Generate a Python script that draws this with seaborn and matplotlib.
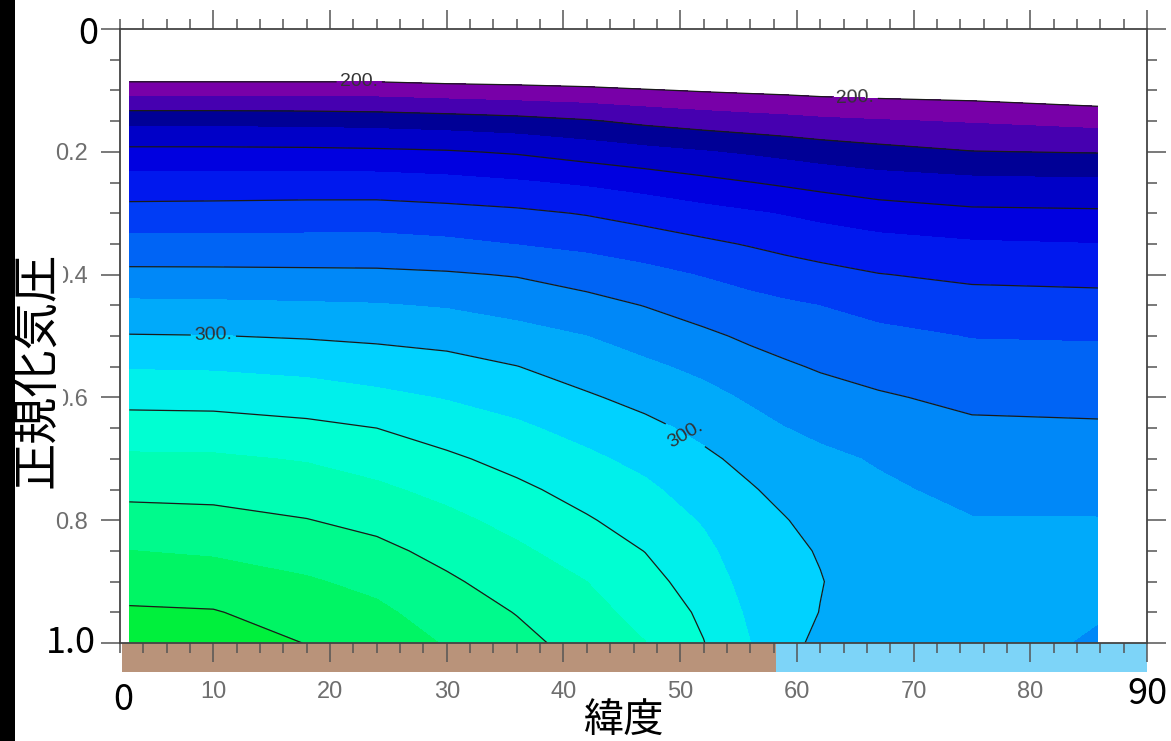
import numpy as np
import matplotlib
matplotlib.use("Agg")
import matplotlib.pyplot as plt
from matplotlib.patches import Rectangle
from matplotlib.ticker import MultipleLocator, FixedLocator
import seaborn as sns

# ---------------- data ----------------
latitudes = [2.8, 10, 18, 24, 30, 36, 42, 47, 52, 56, 59, 62, 67, 75, 85.8]
sigma_levels = [0.05, 0.10, 0.15, 0.20, 0.25, 0.30, 0.35, 0.40, 0.45, 0.50,
                0.55, 0.60, 0.65, 0.70, 0.75, 0.80, 0.85, 0.90, 0.95, 1.00]

# field values per latitude column (top -> bottom, one value per sigma level)
col_lat02 = [184.3, 206.1, 227.2, 242.5, 254.2, 263.5, 273.1, 282.4, 292.0, 300.5, 309.3, 316.9, 324.5, 331.6, 337.5, 343.7, 350.1, 355.7, 361.2, 366.8]
col_lat10 = [184.3, 206.1, 227.2, 242.5, 254.3, 263.8, 273.1, 282.3, 291.7, 300.2, 308.9, 316.6, 324.2, 331.4, 337.1, 342.9, 348.8, 354.7, 360.6, 366.0]
col_lat18 = [185.0, 205.8, 226.9, 242.2, 254.5, 264.2, 273.2, 282.0, 291.1, 299.2, 307.3, 314.9, 322.3, 329.3, 334.9, 340.3, 345.8, 351.0, 355.5, 359.7]
col_lat24 = [185.6, 205.6, 226.2, 241.7, 254.3, 264.4, 273.2, 281.8, 290.6, 298.2, 305.2, 312.3, 320.0, 325.9, 331.7, 337.2, 342.5, 347.5, 351.9, 354.5]
col_lat30 = [185.0, 204.2, 225.0, 240.8, 253.0, 263.3, 271.9, 281.0, 289.2, 296.7, 303.4, 309.4, 315.6, 321.7, 327.2, 332.4, 337.1, 341.5, 345.5, 349.4]
col_lat36 = [185.9, 203.1, 223.4, 239.0, 251.0, 261.9, 269.7, 279.4, 286.5, 293.4, 300.2, 306.0, 311.6, 316.8, 322.0, 327.0, 331.6, 335.6, 339.6, 343.0]
col_lat42 = [184.8, 202.1, 220.9, 235.6, 248.5, 259.4, 267.5, 275.8, 283.3, 290.0, 295.6, 301.1, 306.7, 311.8, 316.4, 320.9, 325.5, 330.0, 333.1, 336.1]
col_lat47 = [183.0, 200.7, 217.9, 232.9, 245.8, 256.3, 265.0, 272.7, 279.7, 285.9, 291.7, 297.2, 302.4, 307.3, 311.8, 315.8, 319.8, 323.4, 326.9, 330.2]
col_lat52 = [184.0, 199.3, 215.6, 230.5, 242.6, 253.2, 261.8, 269.4, 275.7, 281.8, 287.7, 292.9, 297.6, 301.8, 305.4, 309.1, 312.3, 315.2, 318.2, 320.3]
col_lat56 = [184.0, 198.4, 214.1, 228.6, 240.2, 251.0, 259.3, 266.7, 272.9, 278.4, 283.6, 288.7, 293.2, 297.4, 300.8, 302.6, 304.5, 306.4, 308.3, 310.1]
col_lat59 = [184.0, 197.8, 213.1, 227.0, 238.5, 249.3, 257.3, 264.7, 271.3, 276.3, 281.2, 285.7, 290.1, 293.8, 297.4, 300.4, 302.0, 303.3, 303.9, 302.6]
col_lat62 = [184.0, 197.0, 211.9, 225.3, 236.8, 247.3, 255.6, 262.9, 269.9, 274.5, 279.1, 283.7, 288.3, 291.6, 294.0, 296.9, 299.4, 300.4, 299.8, 298.0]
col_lat67 = [184.0, 196.2, 210.7, 223.1, 234.4, 244.4, 253.2, 260.3, 266.8, 272.3, 276.7, 281.0, 285.2, 289.3, 291.2, 292.6, 293.8, 294.8, 295.5, 295.8]
col_lat75 = [184.0, 195.3, 209.2, 220.3, 232.6, 241.9, 251.1, 258.1, 264.0, 269.6, 273.8, 277.9, 281.6, 284.8, 288.1, 290.3, 290.9, 291.4, 291.7, 291.8]
col_lat86 = [184.0, 192.6, 206.9, 219.5, 231.8, 241.4, 250.1, 257.3, 263.5, 269.2, 273.4, 277.4, 281.1, 284.3, 287.4, 290.3, 290.6, 290.6, 290.3, 289.5]

fill_levels = [200, 210, 220, 230, 240, 250, 260, 270, 280, 290, 300,
               310, 320, 330, 340, 350, 360, 370]
plain_line_levels = [220, 240, 260, 280, 320, 340, 360]
labelled_line_levels = [200, 300]
band_colors = ["#7800A8", "#4600B0", "#000096", "#0000C8", "#0000E0", "#0018EE",
               "#003CF5", "#0064F5", "#0088F8", "#00AAFA", "#00D2FF", "#00F0EB",
               "#00FFD2", "#00FFB4", "#00FA8C", "#00F564", "#00F03C"]

x_major = [10, 20, 30, 40, 50, 60, 70, 80, 90]
x_labels = ["10", "20", "30", "40", "50", "60", "70", "80", ""]
y_major = [0.0, 0.2, 0.4, 0.6, 0.8, 1.0]
y_labels = ["", "0.2", "0.4", "0.6", "0.8", ""]
land_span = (2.15, 58.2)
sea_span = (58.2, 90.0)

# ---------------- figure ----------------
sns.set_style("white")
plt.rcParams["font.family"] = ["Noto Sans CJK JP", "DejaVu Sans"]

W, H = 1171, 741
fig = plt.figure(figsize=(W / 100, H / 100), dpi=100, facecolor="white")
ax = fig.add_axes([120 / W, 1 - 643 / H, (1147 - 120) / W, (643 - 29) / H])
ax.set_facecolor("white")

Z = np.column_stack([col_lat02, col_lat10, col_lat18, col_lat24, col_lat30,
                     col_lat36, col_lat42, col_lat47, col_lat52, col_lat56,
                     col_lat59, col_lat62, col_lat67, col_lat75, col_lat86])
pal = sns.color_palette(band_colors)
ax.contourf(latitudes, sigma_levels, Z, levels=fill_levels, colors=pal)
ax.contour(latitudes, sigma_levels, Z, levels=plain_line_levels,
           colors="#1a1a1a", linewidths=0.9)
cs_lab = ax.contour(latitudes, sigma_levels, Z, levels=labelled_line_levels,
                    colors="#1a1a1a", linewidths=0.9)
ax.clabel(cs_lab, inline=True, inline_spacing=5,
          fmt=lambda v: f"{v:.0f}.", fontsize=14, colors="#333333",
          manual=[(22.5, 0.086), (65.0, 0.111), (10.0, 0.499), (50.8, 0.650)])
for t in cs_lab.labelTexts:
    t.set_fontfamily("Liberation Sans")

ax.set_xlim(2, 90)
ax.set_ylim(1.0, 0.0)

# land / sea strip under the axis
trans = ax.get_xaxis_transform()
ax.add_patch(Rectangle((land_span[0], -0.0475), land_span[1] - land_span[0], 0.0475,
                       transform=trans, clip_on=False, facecolor="#B9937A",
                       edgecolor="none", zorder=0.5))
ax.add_patch(Rectangle((sea_span[0], -0.0475), sea_span[1] - sea_span[0], 0.0475,
                       transform=trans, clip_on=False, facecolor="#7DD4F8",
                       edgecolor="none", zorder=0.5))

ax.xaxis.set_major_locator(FixedLocator(x_major))
ax.set_xticklabels(x_labels)
ax.xaxis.set_minor_locator(MultipleLocator(2))
ax.yaxis.set_major_locator(FixedLocator(y_major))
ax.set_yticklabels(y_labels)
ax.yaxis.set_minor_locator(MultipleLocator(0.05))

ax.tick_params(which="both", direction="out", top=True, right=True,
               bottom=True, left=True, color="#555555", width=1.1)
ax.tick_params(which="major", length=14)
ax.tick_params(which="minor", length=7)
ax.tick_params(axis="x", which="major", pad=13)
ax.tick_params(axis="y", which="major", pad=9)
for lab in ax.get_xticklabels() + ax.get_yticklabels():
    lab.set_fontfamily("Liberation Sans")
    lab.set_fontsize(17)
    lab.set_color("#6e6e6e")
for sp in ax.spines.values():
    sp.set_color("#444444")
    sp.set_linewidth(1.3)
ax.grid(False)

# big overlay labels
big = dict(color="black", ha="center", va="center", fontsize=26)
fig.text(88 / W, 1 - 34 / H, "0", **big)
fig.text(71 / W, 1 - 643 / H, "1.0", **big)
fig.text(123 / W, 1 - 700 / H, "0", **big)
fig.text(1147 / W, 1 - 694 / H, "90", **big)
fig.text(624 / W, 1 - 720 / H, "緯度", color="black", ha="center", va="center",
         fontsize=29)
fig.text(37 / W, 1 - 370 / H, "正規化気圧", color="black", ha="center",
         va="center", fontsize=34, rotation=90,
         bbox=dict(facecolor="white", edgecolor="none", pad=1))

# black strip along the left edge
fig.patches.append(Rectangle((0, 0), 15 / W, 1, transform=fig.transFigure,
                             facecolor="black", edgecolor="none", zorder=10))

fig.savefig("out.png", dpi=100, facecolor=fig.get_facecolor())
